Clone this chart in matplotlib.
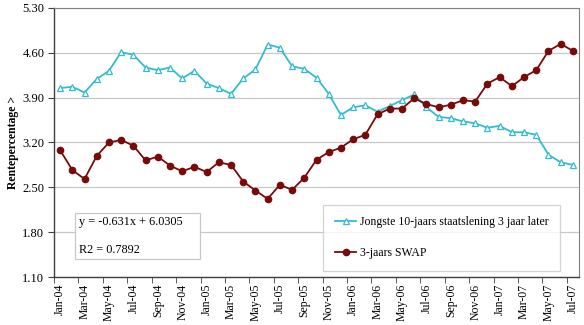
import matplotlib
matplotlib.use("Agg")
import matplotlib.pyplot as plt
from matplotlib.patches import Rectangle
import numpy as np

MONTHS = ["Jan", "Feb", "Mar", "Apr", "May", "Jun",
          "Jul", "Aug", "Sep", "Oct", "Nov", "Dec"]
LABELS = [f"{m}-{y:02d}" for y in (4, 5, 6, 7) for m in MONTHS][:43]

STAATSLENING = [4.05, 4.07, 3.98, 4.19, 4.32, 4.61, 4.57, 4.37, 4.33, 4.37,
                4.20, 4.32, 4.12, 4.05, 3.96, 4.20, 4.34, 4.73, 4.68, 4.39,
                4.35, 4.21, 3.96, 3.63, 3.75, 3.78, 3.68, 3.77, 3.86, 3.95,
                3.75, 3.60, 3.58, 3.53, 3.50, 3.43, 3.46, 3.36, 3.36, 3.32,
                3.01, 2.89, 2.85]
SWAP = [3.08, 2.77, 2.63, 2.99, 3.20, 3.24, 3.15, 2.92, 2.98, 2.84,
        2.75, 2.82, 2.74, 2.89, 2.85, 2.59, 2.45, 2.32, 2.54, 2.46,
        2.65, 2.93, 3.05, 3.12, 3.25, 3.32, 3.64, 3.73, 3.73, 3.89,
        3.80, 3.75, 3.79, 3.86, 3.84, 4.12, 4.22, 4.08, 4.22, 4.33,
        4.63, 4.74, 4.63]
YTICKS = [1.10, 1.80, 2.50, 3.20, 3.90, 4.60, 5.30]

CYAN = "#33BCD0"
DARKRED = "#7A0A0A"

plt.rcParams["font.family"] = ["Liberation Serif", "DejaVu Serif"]

fig = plt.figure(figsize=(5.84, 3.25), dpi=100)
ax = fig.add_axes([54 / 584, 1 - 277 / 325, 525 / 584, 269 / 325])

x = np.arange(len(LABELS))
ax.plot(x, STAATSLENING, color=CYAN, lw=1.3, marker="^", ms=5,
        mfc="white", mec=CYAN, mew=0.9,
        label="Jongste 10-jaars staatslening 3 jaar later", zorder=3)
ax.plot(x, SWAP, color=DARKRED, lw=1.3, marker="o", ms=4.5,
        mfc=DARKRED, mec=DARKRED, label="3-jaars SWAP", zorder=3)

ax.set_xlim(-0.5, len(LABELS) - 0.5)
ax.set_ylim(1.10, 5.30)
ax.set_yticks(YTICKS)
ax.set_yticklabels([f"{v:.2f}" for v in YTICKS], fontsize=9)
ax.set_xticks(x[::2])
ax.set_xticklabels(LABELS[::2], rotation=90, fontsize=8.5)
ax.set_xticks(np.arange(-0.5, len(LABELS), 2), minor=True)
ax.tick_params(axis="x", which="major", length=0, pad=5)
ax.tick_params(axis="x", which="minor", length=4, color="#404040")
ax.tick_params(axis="y", length=4, color="#404040", pad=3)
ax.grid(axis="y", color="#C8C8C8", lw=0.9)
ax.set_axisbelow(True)
for side in ("top", "right"):
    ax.spines[side].set_color("#808080")
for side in ("left", "bottom"):
    ax.spines[side].set_color("#404040")
    ax.spines[side].set_linewidth(1.0)

ax.set_ylabel("Rentepercentage >", fontsize=8.5, fontweight="bold", labelpad=2)

# trendline equation box
ax.add_patch(Rectangle((0.040, 0.067), 0.238, 0.171, transform=ax.transAxes,
                       fc="white", ec="#C8C8C8", lw=0.9, zorder=4))
ax.text(0.047, 0.203, "y = -0.631x + 6.0305", transform=ax.transAxes,
        fontsize=8.8, va="center", ha="left", zorder=5)
ax.text(0.047, 0.100, "R2 = 0.7892", transform=ax.transAxes,
        fontsize=8.8, va="center", ha="left", zorder=5)

leg = ax.legend(loc="lower right", bbox_to_anchor=(0.964, 0.022), fontsize=8.5,
                frameon=True, fancybox=False, edgecolor="#C8C8C8",
                handlelength=1.8, labelspacing=1.6, borderpad=1.0,
                handletextpad=0.3, borderaxespad=0)
leg.get_frame().set_linewidth(0.9)

fig.savefig("out.png", dpi=100)
